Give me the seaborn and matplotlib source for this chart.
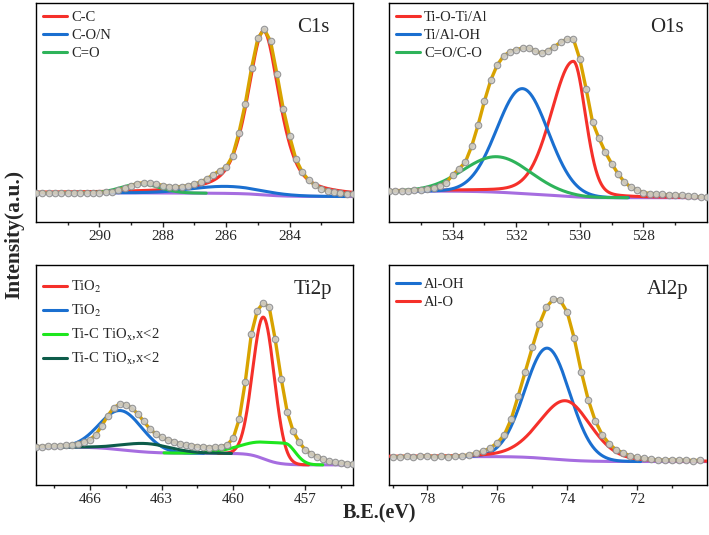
import seaborn as sns
import matplotlib
matplotlib.use('Agg')
import matplotlib.pyplot as plt
import numpy as np

# ---------------- C1s ----------------
c1s_be = [292.0, 291.8, 291.6, 291.4, 291.2, 291.0, 290.8, 290.6, 290.4, 290.2,
          290.0, 289.8, 289.6, 289.4, 289.2, 289.0, 288.8, 288.6, 288.4, 288.2,
          288.0, 287.8, 287.6, 287.4, 287.2, 287.0, 286.8, 286.6, 286.4, 286.2,
          286.0, 285.8, 285.6, 285.4, 285.2, 285.0, 284.8, 284.6, 284.4, 284.2,
          284.0, 283.8, 283.6, 283.4, 283.2, 283.0, 282.8, 282.6, 282.4, 282.2, 282.0]
c1s_counts = [29.3, 29.5, 29.0, 29.3, 29.5, 29.3, 29.0, 29.3, 29.5, 29.3,
              29.5, 29.8, 30.5, 32.0, 34.0, 36.5, 38.5, 39.3, 39.0, 38.0,
              36.5, 35.5, 35.3, 35.5, 36.5, 38.0, 40.0, 43.5, 47.5, 51.5,
              55.0, 66.0, 89.0, 118.0, 154.0, 184.0, 193.0, 181.0, 148.5, 113.5,
              86.0, 63.0, 50.0, 42.0, 37.0, 33.5, 31.0, 29.8, 28.8, 28.2, 27.8]
c1s_names = ['C-C', 'C-O/N', 'C=O']
c1s_centers = [284.82, 286.0, 288.7]
c1s_heights = [164.0, 7.0, 9.0]
c1s_hw_left = [0.6, 1.3, 0.7]
c1s_hw_right = [0.6, 1.3, 0.7]
c1s_eta = [0.6, 0.0, 0.0]
c1s_bg = [29.3, 25.5]          # background level at high / low B.E.

# ---------------- O1s ----------------
o1s_be = [536.0, 535.8, 535.6, 535.4, 535.2, 535.0, 534.8, 534.6, 534.4, 534.2,
          534.0, 533.8, 533.6, 533.4, 533.2, 533.0, 532.8, 532.6, 532.4, 532.2,
          532.0, 531.8, 531.6, 531.4, 531.2, 531.0, 530.8, 530.6, 530.4, 530.2,
          530.0, 529.8, 529.6, 529.4, 529.2, 529.0, 528.8, 528.6, 528.4, 528.2,
          528.0, 527.8, 527.6, 527.4, 527.2, 527.0, 526.8, 526.6, 526.4, 526.2, 526.0]
o1s_counts = [31.0, 31.3, 31.3, 31.5, 31.8, 32.3, 33.0, 34.0, 36.0, 39.5,
              47.0, 53.0, 60.0, 76.0, 97.0, 121.0, 142.0, 157.0, 166.0, 170.5,
              172.5, 174.0, 174.0, 171.0, 169.0, 171.5, 175.5, 180.0, 183.0, 183.0,
              163.0, 133.0, 100.0, 84.0, 70.0, 58.5, 48.5, 40.0, 35.0, 32.0,
              29.5, 28.5, 28.0, 27.6, 27.2, 27.0, 26.6, 26.0, 25.6, 25.0, 24.7]
o1s_names = ['Ti-O-Ti/Al', 'Ti/Al-OH', 'C=O/C-O']
o1s_centers = [530.2, 531.8, 532.6]
o1s_heights = [135.5, 105.0, 35.5]
o1s_hw_left = [0.83, 0.95, 1.25]
o1s_hw_right = [0.45, 0.95, 1.25]
o1s_eta = [0.2, 0.0, 0.0]
o1s_bg = [31.0, 24.3]

# ---------------- Ti2p ----------------
ti_be = [468.25, 468.0, 467.75, 467.5, 467.25, 467.0, 466.75, 466.5, 466.25, 466.0,
         465.75, 465.5, 465.25, 465.0, 464.75, 464.5, 464.25, 464.0, 463.75, 463.5,
         463.25, 463.0, 462.75, 462.5, 462.25, 462.0, 461.75, 461.5, 461.25, 461.0,
         460.75, 460.5, 460.25, 460.0, 459.75, 459.5, 459.25, 459.0, 458.75, 458.5,
         458.25, 458.0, 457.75, 457.5, 457.25, 457.0, 456.75, 456.5, 456.25, 456.0,
         455.75, 455.5, 455.25, 455.0]
ti_counts = [38.3, 38.3, 38.5, 38.8, 39.0, 39.5, 40.0, 41.0, 42.5, 45.0,
             50.0, 59.0, 69.0, 77.0, 80.5, 80.0, 76.5, 71.0, 63.5, 56.0,
             51.0, 47.5, 45.0, 43.0, 41.0, 39.8, 39.0, 38.3, 37.8, 37.3,
             37.5, 38.3, 40.0, 47.0, 66.0, 103.0, 150.0, 173.5, 181.5, 177.0,
             145.0, 106.0, 73.0, 53.5, 43.0, 35.0, 31.0, 28.3, 25.5, 23.5,
             22.5, 21.8, 21.2, 20.7]
ti_names = ['TiO$_2$', 'TiO$_2$', r'Ti-C TiO$_\mathrm{x}$,x<2', r'Ti-C TiO$_\mathrm{x}$,x<2']
ti_centers = [458.74, 464.71, 457.84, 463.62]
ti_heights = [141.0, 39.0, 20.7, 8.5]
ti_hw_left = [0.53, 1.05, 1.6, 1.2]
ti_hw_right = [0.53, 1.05, 0.5, 1.2]
ti_eta = [0.0, 0.0, 0.0, 0.0]
ti_bg = [37.7, 20.0]

# ---------------- Al2p ----------------
al_be = [79.0, 78.8, 78.6, 78.4, 78.2, 78.0, 77.8, 77.6, 77.4, 77.2,
         77.0, 76.8, 76.6, 76.4, 76.2, 76.0, 75.8, 75.6, 75.4, 75.2,
         75.0, 74.8, 74.6, 74.4, 74.2, 74.0, 73.8, 73.6, 73.4, 73.2,
         73.0, 72.8, 72.6, 72.4, 72.2, 72.0, 71.8, 71.6, 71.4, 71.2,
         71.0, 70.8, 70.6, 70.4, 70.2]
al_counts = [28.3, 28.0, 28.6, 27.8, 28.4, 28.9, 28.0, 28.5, 28.2, 28.6,
             29.0, 30.0, 31.5, 33.5, 37.0, 42.0, 50.0, 66.0, 89.0, 113.0,
             137.0, 160.0, 177.0, 185.0, 184.0, 172.0, 146.0, 113.0, 85.0, 64.0,
             50.0, 41.0, 35.0, 32.0, 29.0, 27.5, 26.5, 25.5, 25.0, 24.7,
             25.2, 24.5, 24.8, 24.3, 24.6]
al_names = ['Al-OH', 'Al-O']
al_centers = [74.57, 74.05]
al_heights = [110.0, 59.0]
al_hw_left = [0.76, 0.9]
al_hw_right = [0.76, 0.85]
al_eta = [0.0, 0.2]
al_bg = [28.3, 23.3]

red = '#f5302a'
blue = '#1a6fd0'
green = '#2eb35a'
gold = '#d8a300'
purple = '#a66de0'


def peak(x, c, h, hwl, hwr, eta):
    hw = np.where(x >= c, hwl, hwr)
    u = (x - c) / hw
    g = np.exp(-np.log(2) * u ** 2)
    l = 1.0 / (1.0 + u ** 2)
    return h * ((1 - eta) * g + eta * l)


def draw_panel(ax, be, counts, names, centers, heights, hwl, hwr, eta, bg_ends,
               colors, xlim, major, minor, title, leg_spacing, leg_top):
    x = np.arange(min(xlim), max(xlim) + 0.01, 0.01)
    comps = [peak(x, centers[i], heights[i], hwl[i], hwr[i], eta[i])
             for i in range(len(names))]
    total = np.sum(comps, axis=0)
    cum = np.cumsum(total)
    cum = cum / cum[-1]
    bg = bg_ends[1] + (bg_ends[0] - bg_ends[1]) * cum

    sns.lineplot(x=x, y=bg, ax=ax, color=purple, lw=2.2, zorder=2)
    handles = []
    for i in range(len(names)):
        y = bg + comps[i]
        mask = comps[i] > 0.02
        sns.lineplot(x=x[mask], y=y[mask], ax=ax, color=colors[i], lw=2.2, zorder=3)
        handles.append(ax.lines[-1])
    sns.lineplot(x=be, y=counts, ax=ax, color=gold, lw=2.4, zorder=4)
    sns.scatterplot(x=be, y=counts, ax=ax, s=22, color='#cdcdcd', edgecolor='#8e8e8e',
                    linewidth=0.8, alpha=0.9, zorder=5)

    ax.set_xlim(xlim)
    ax.set_ylim(0, 219)
    ax.set_xticks(major)
    ax.set_xticks(minor, minor=True)
    ax.set_yticks([])
    ax.tick_params(axis='x', which='major', direction='out', length=3.5, width=1,
                   labelsize=11, pad=2)
    ax.tick_params(axis='x', which='minor', direction='out', length=2.5, width=1)
    ax.set_xlabel('')
    ax.set_ylabel('')
    for s in ax.spines.values():
        s.set_linewidth(1)
        s.set_color('black')
    ax.legend(handles, names, loc='upper left', bbox_to_anchor=(0.0, leg_top),
              frameon=False, fontsize=10.5, handlelength=1.6, handletextpad=0.3,
              labelspacing=leg_spacing, borderaxespad=0.2, borderpad=0.3)
    ax.text(0.875, 0.89, title, transform=ax.transAxes, ha='center', va='center',
            fontsize=15)


sns.set_style('ticks')
plt.rcParams['font.family'] = ['Liberation Serif', 'DejaVu Serif']
plt.rcParams['mathtext.fontset'] = 'stix'

fig = plt.figure(figsize=(7.09, 5.35), dpi=100)
ax1 = fig.add_axes([0.0508, 0.585, 0.447, 0.409])
ax2 = fig.add_axes([0.5487, 0.585, 0.4485, 0.409])
ax3 = fig.add_axes([0.0508, 0.0935, 0.447, 0.411])
ax4 = fig.add_axes([0.5487, 0.0935, 0.4485, 0.411])

draw_panel(ax1, c1s_be, c1s_counts, c1s_names, c1s_centers, c1s_heights,
           c1s_hw_left, c1s_hw_right, c1s_eta, c1s_bg, [red, blue, green],
           (292, 282), [290, 288, 286, 284], [291, 289, 287, 285, 283], 'C1s',
           0.35, 1.0)
draw_panel(ax2, o1s_be, o1s_counts, o1s_names, o1s_centers, o1s_heights,
           o1s_hw_left, o1s_hw_right, o1s_eta, o1s_bg, [red, blue, green],
           (536, 526), [534, 532, 530, 528], [535, 533, 531, 529, 527], 'O1s',
           0.35, 1.0)
draw_panel(ax3, ti_be, ti_counts, ti_names, ti_centers, ti_heights,
           ti_hw_left, ti_hw_right, ti_eta, ti_bg, [red, blue, '#1ee61e', '#0d5c4a'],
           (468.25, 455.0), [466, 463, 460, 457], [467.5, 464.5, 461.5, 458.5, 455.5],
           'Ti2p', 0.55, 0.97)
draw_panel(ax4, al_be, al_counts, al_names, al_centers, al_heights,
           al_hw_left, al_hw_right, al_eta, al_bg, [blue, red],
           (79.1, 70.0), [78, 76, 74, 72], [79, 77, 75, 73, 71], 'Al2p',
           0.35, 0.975)

fig.text(0.02, 0.562, 'Intensity(a.u.)', rotation=90, ha='center', va='center',
         fontsize=15.5, fontweight='bold')
fig.text(0.535, 0.04, 'B.E.(eV)', ha='center', va='center', fontsize=14.5,
         fontweight='bold')

fig.savefig('out.png', dpi=100)
